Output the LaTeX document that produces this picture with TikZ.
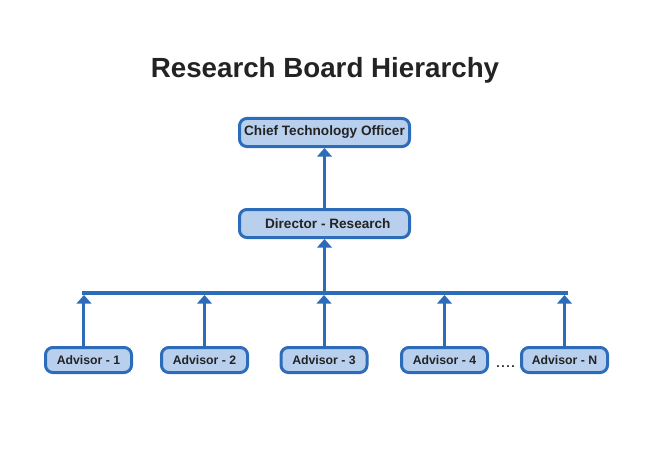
\documentclass[tikz,border=0pt]{standalone}
\usepackage{fontspec}
\setmainfont{Liberation Sans}
\usetikzlibrary{arrows.meta}
\definecolor{boxfill}{RGB}{184,208,238}
\definecolor{boxline}{RGB}{45,108,185}
\definecolor{inkgray}{RGB}{35,35,35}
\tikzset{
  box/.style={draw=boxline, fill=boxfill, line width=2.25pt, rounded corners=5.5pt,
    inner sep=0pt, minimum width=127.5pt, minimum height=21pt,
    text=inkgray, font=\bfseries\fontsize{10.2}{12}\selectfont},
  advisor/.style={box, minimum width=64.5pt, minimum height=18.75pt,
    font=\bfseries\fontsize{9.2}{11}\selectfont},
  link/.style={draw=boxline, line width=2.25pt, -{Triangle[width=11pt,length=6.5pt]}},
  bar/.style={draw=boxline, line width=3pt}
}
\begin{document}
\begin{tikzpicture}[x=0.75pt, y=-0.75pt]
      \useasboundingbox (0,0) rectangle (650,460);
      \node[text=inkgray, font=\bfseries\fontsize{20.8}{24}\selectfont] (title) at (325,70) {Research Board Hierarchy};
      \node[box] (cto) at (324.5,132.5) {Chief Technology Officer};
      \node[box] (dir) at (324.5,223.5) {\hspace{5pt}Director - Research};
      \coordinate (barL) at (84,293);
      \coordinate (barR) at (566,293);
      \node[advisor] (a1) at (88.5,360) {Advisor - 1};
      \node[advisor] (a2) at (204.5,360) {Advisor - 2};
      \node[advisor] (a3) at (324,360) {Advisor - 3};
      \node[advisor] (a4) at (444.5,360) {Advisor - 4};
      \node[advisor] (aN) at (564.5,360) {Advisor - N};
      \node[text=inkgray, font=\bfseries\fontsize{9.2}{11}\selectfont] (dots) at (505.5,366.5) {.\hspace{1.2pt}.\hspace{1.2pt}.\hspace{1.2pt}.};
      \begin{scope}
        \draw[bar] ([xshift=-1.5pt]barL) -- ([xshift=1.5pt]barR);
        \draw[link] (dir.north) -- (cto.south);
        \draw[link] (dir.south |- barL) -- (dir.south);
        \draw[link, shorten >=1.5pt] ([xshift=-3.4pt]a1.north) -- ([xshift=-3.4pt]a1.north |- barL);
        \draw[link, shorten >=1.5pt] (a2.north) -- (a2.north |- barL);
        \draw[link, shorten >=1.5pt] (a3.north) -- (a3.north |- barL);
        \draw[link, shorten >=1.5pt] (a4.north) -- (a4.north |- barL);
        \draw[link, shorten >=1.5pt] (aN.north) -- (aN.north |- barL);
      \end{scope}
    \end{tikzpicture}
\end{document}
